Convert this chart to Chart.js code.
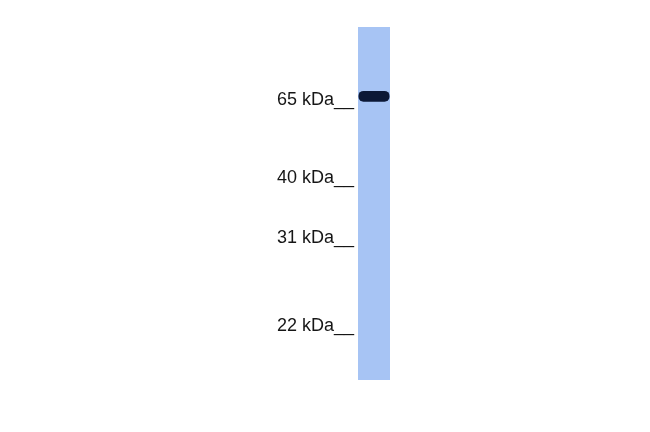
<!DOCTYPE html>
<html>
<head>
<meta charset="utf-8">
<script src="https://cdn.jsdelivr.net/npm/chart.js@4/dist/chart.umd.min.js"></script>
<style>
    html, body { margin: 0; padding: 0; background: #ffffff; }
    #wrap { position: relative; width: 650px; height: 432px; }
</style>
</head>
<body>
<div id="wrap"><canvas id="blot" width="650" height="432"></canvas></div>
<script>
    "use strict";

    // lane and marker data, migration given as relative distance from the top of the lane (0..1)
    const laneLabels = ['Sample'];
    const markerLabels = ['65 kDa', '40 kDa', '31 kDa', '22 kDa'];
    const markerMigration = [0.207, 0.428, 0.598, 0.847];
    const laneExtent = [0, 1];
    const bandMigration = [[0.181, 0.212]];

    const ctx = document.getElementById('blot').getContext('2d');
    const chart = new Chart(ctx, {
        type: 'bar',
        data: {
            labels: laneLabels,
            datasets: [
                {
                    label: 'Band',
                    data: bandMigration,
                    backgroundColor: '#0c1836',
                    borderRadius: 5,
                    borderSkipped: false,
                    barPercentage: 0.97,
                    categoryPercentage: 1,
                    grouped: false,
                    order: 0,
                },
                {
                    label: 'Lane',
                    data: laneLabels.map(() => laneExtent),
                    backgroundColor: '#a7c4f4',
                    borderWidth: 0,
                    barPercentage: 1,
                    categoryPercentage: 1,
                    grouped: false,
                    order: 1,
                },
            ],
        },
        options: {
            responsive: false,
            animation: false,
            layout: {
                padding: { left: 0, right: 260, top: 27, bottom: 52 },
            },
            plugins: {
                legend: { display: false },
                tooltip: { enabled: false },
            },
            scales: {
                x: {
                    display: false,
                },
                y: {
                    type: 'linear',
                    reverse: true,
                    min: 0,
                    max: 1,
                    grid: { display: false, drawTicks: false },
                    border: { display: false },
                    afterFit: (scale) => { scale.width = 358; },
                    afterBuildTicks: (scale) => {
                        scale.ticks = markerMigration.map(v => ({ value: v }));
                    },
                    ticks: {
                        padding: 4,
                        autoSkip: false,
                        color: '#161616',
                        font: { family: '"Liberation Sans", Arial, sans-serif', size: 18 },
                        callback: (value, index) => markerLabels[index] + '__',
                    },
                },
            },
        },
    });
</script>
</body>
</html>
